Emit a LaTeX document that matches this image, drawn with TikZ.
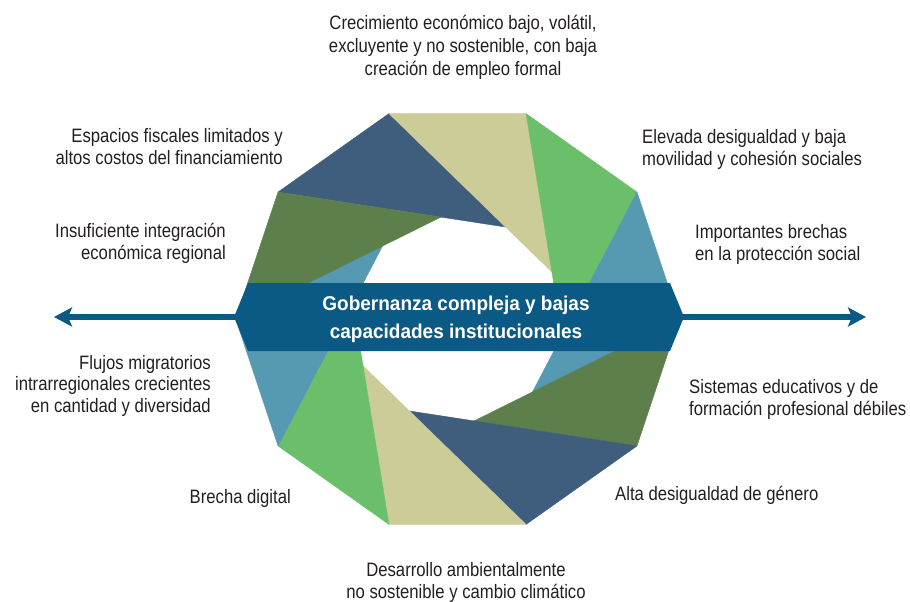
\documentclass[tikz,border=0pt]{standalone}
\usepackage{fontspec}
\setmainfont{Liberation Sans}[FakeStretch=0.86]
\newfontfamily\bannerfont{Liberation Sans}[FakeStretch=0.95]
\usetikzlibrary{arrows.meta}
\definecolor{cdblue}{RGB}{63,94,126}
\definecolor{ckhaki}{RGB}{204,204,153}
\definecolor{cgreen}{RGB}{108,191,106}
\definecolor{cteal}{RGB}{86,153,178}
\definecolor{cdgreen}{RGB}{92,127,76}
\definecolor{cbanner}{RGB}{11,90,133}
\definecolor{ctext}{RGB}{35,31,32}
\begin{document}
\begin{tikzpicture}[x=1pt,y=-1pt,
  lbl/.style={font=\fontsize{19.4}{21.5}\selectfont, text=ctext, inner sep=0pt},
  bannertext/.style={font=\bannerfont\bfseries\fontsize{20}{28}\selectfont, text=white, inner sep=0pt, align=center},
  axisarrow/.style={cbanner, line width=5.5pt, {Stealth[length=18pt,width=19pt,inset=4pt]}-{Stealth[length=18pt,width=19pt,inset=4pt]}}]
\useasboundingbox (0,0) rectangle (910,602);
% axis arrow
\coordinate (lt) at (54,317);
\coordinate (rt) at (866,317);
\draw[axisarrow] (lt) -- (rt);
% pinwheel
\begin{scope}[shift={(457.5,319)}, x=1.027pt, y=1pt]
\foreach \a/\c in {144/cdblue,108/ckhaki,72/cgreen,36/cteal,0/cdgreen,-36/cdblue,-72/ckhaki,-108/cgreen,-144/cteal,180/cdgreen}
  \filldraw[fill=\c, draw=\c, line width=0.4pt, line join=round] (\a:216) -- (\a-36:216) -- (\a-81:103.2) -- cycle;
\end{scope}
% banner
\coordinate (bw) at (234,317);
\coordinate (be) at (684,317);
\fill[cbanner] (bw) -- (248,283) -- (670,283) -- (be) -- (670,351) -- (248,351) -- cycle;
\node[bannertext, anchor=base] (ban) at (456,338) {Gobernanza compleja y bajas\\capacidades institucionales};
% labels
\node[lbl, align=center, anchor=base, font=\fontsize{19.4}{23}\selectfont] (t1) at (463,75) {Crecimiento económico bajo, volátil,\\excluyente y no sostenible, con baja\\creación de empleo formal};
\node[lbl, align=right, anchor=base east] (t2) at (283,164) {Espacios fiscales limitados y\\altos costos del financiamiento};
\node[lbl, align=right, anchor=base east] (t3) at (226,259) {Insuficiente integración\\económica regional};
\node[lbl, align=left, anchor=base west] (t4) at (642,165) {Elevada desigualdad y baja\\movilidad y cohesión sociales};
\node[lbl, align=left, anchor=base west] (t5) at (695,260) {Importantes brechas\\en la protección social};
\node[lbl, align=right, anchor=base east] (t6) at (211,412) {Flujos migratorios\\intrarregionales crecientes\\en cantidad y diversidad};
\node[lbl, anchor=base east] (t7) at (291,503) {Brecha digital};
\node[lbl, align=left, anchor=base west] (t8) at (689,415) {Sistemas educativos y de\\formación profesional débiles};
\node[lbl, anchor=base west] (t9) at (615,500) {Alta desigualdad de género};
\node[lbl, align=center, anchor=base] (t10) at (466,598) {Desarrollo ambientalmente\\no sostenible y cambio climático};
\end{tikzpicture}
\end{document}
